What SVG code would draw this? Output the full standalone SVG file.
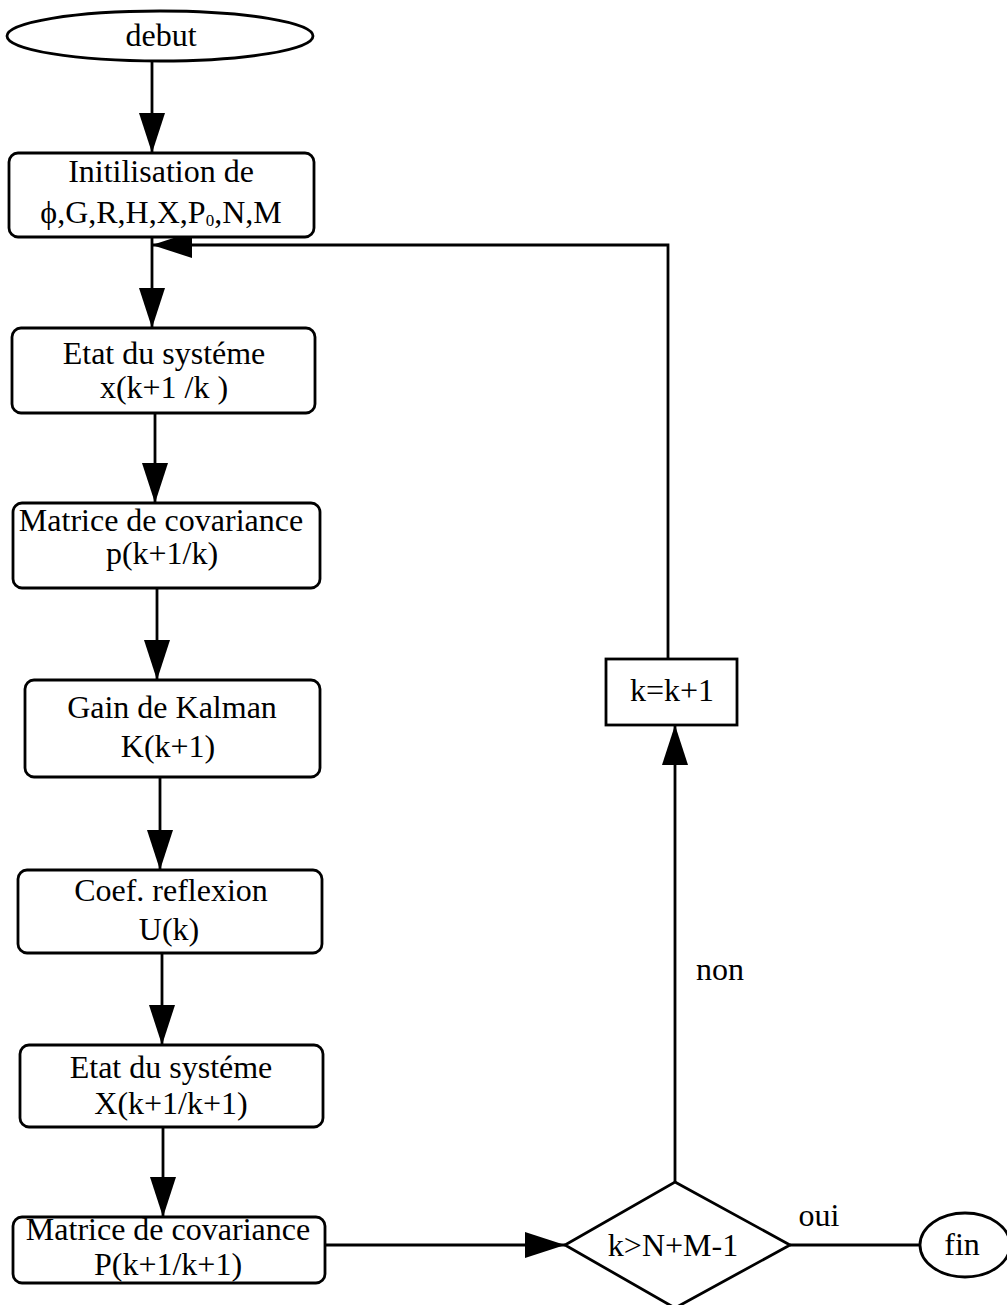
<svg xmlns="http://www.w3.org/2000/svg" width="1007" height="1305" viewBox="0 0 1007 1305">
  <style>
    .shape { fill: #fff; stroke: #000; stroke-width: 2.8; }
    .line { fill: none; stroke: #000; stroke-width: 2.8; }
    .arrow { marker-end: url(#head); }
    text { font-family: "Liberation Serif", "Times New Roman", serif; font-size: 32px; fill: #000; text-anchor: middle; }
    .sub { font-size: 17px; }
  </style>
  <defs>
    <marker id="head" markerUnits="userSpaceOnUse" markerWidth="40" markerHeight="26" refX="40" refY="13" orient="auto">
      <path d="M0,0 L40,13 L0,26 Z" fill="#000"/>
    </marker>
  </defs>
  <rect width="1007" height="1305" fill="#fff"/>

  <!-- connectors -->
  <g id="connectors">
    <path class="line arrow" d="M152,62 V153"/>
    <path class="line arrow" d="M152,237 V328"/>
    <path class="line arrow" d="M155,413 V503"/>
    <path class="line arrow" d="M157,588 V680"/>
    <path class="line arrow" d="M160,777 V870"/>
    <path class="line arrow" d="M162,953 V1045"/>
    <path class="line arrow" d="M163,1127 V1217"/>
    <path class="line arrow" d="M325,1245 H565"/>
    <path class="line arrow" d="M675,1182 V725"/>
    <path class="line arrow" d="M668,659 V245 H152"/>
    <path class="line" d="M790,1245 H919"/>
    <text x="720" y="980">non</text>
    <text x="819" y="1226">oui</text>
  </g>

  <!-- start -->
  <g id="debut">
    <ellipse class="shape" cx="160" cy="36" rx="153" ry="25"/>
    <text x="161" y="46">debut</text>
  </g>

  <g id="init">
    <rect class="shape" x="9" y="153" width="305" height="84" rx="9"/>
    <text x="161" y="182">Initilisation de</text>
    <text x="161" y="223">ϕ,G,R,H,X,P<tspan class="sub" dy="3">0</tspan><tspan dy="-3">,N,M</tspan></text>
  </g>

  <g id="etat-predit">
    <rect class="shape" x="12" y="328" width="303" height="85" rx="9"/>
    <text x="164" y="364">Etat du systéme</text>
    <text x="164" y="398">x(k+1 /k )</text>
  </g>

  <g id="covariance-predite">
    <rect class="shape" x="13" y="503" width="307" height="85" rx="9"/>
    <text x="161" y="531">Matrice de covariance</text>
    <text x="162" y="564">p(k+1/k)</text>
  </g>

  <g id="gain-kalman">
    <rect class="shape" x="25" y="680" width="295" height="97" rx="9"/>
    <text x="172" y="718">Gain de Kalman</text>
    <text x="168" y="757">K(k+1)</text>
  </g>

  <g id="coef-reflexion">
    <rect class="shape" x="18" y="870" width="304" height="83" rx="9"/>
    <text x="171" y="901">Coef. reflexion</text>
    <text x="169" y="940">U(k)</text>
  </g>

  <g id="etat-corrige">
    <rect class="shape" x="20" y="1045" width="303" height="82" rx="9"/>
    <text x="171" y="1078">Etat du systéme</text>
    <text x="171" y="1114">X(k+1/k+1)</text>
  </g>

  <g id="covariance-corrigee">
    <rect class="shape" x="13" y="1217" width="312" height="66" rx="9"/>
    <text x="168" y="1240">Matrice de covariance</text>
    <text x="168" y="1275">P(k+1/k+1)</text>
  </g>

  <g id="test-fin">
    <polygon class="shape" points="675,1182 790,1245 675,1308 565,1245" stroke-width="3.5"/>
    <text x="673" y="1256">k&gt;N+M-1</text>
  </g>

  <g id="increment">
    <rect class="shape" x="606" y="659" width="131" height="66"/>
    <text x="672" y="701">k=k+1</text>
  </g>

  <g id="fin">
    <ellipse class="shape" cx="965" cy="1245" rx="45" ry="32"/>
    <text x="962" y="1255">fin</text>
  </g>
</svg>
